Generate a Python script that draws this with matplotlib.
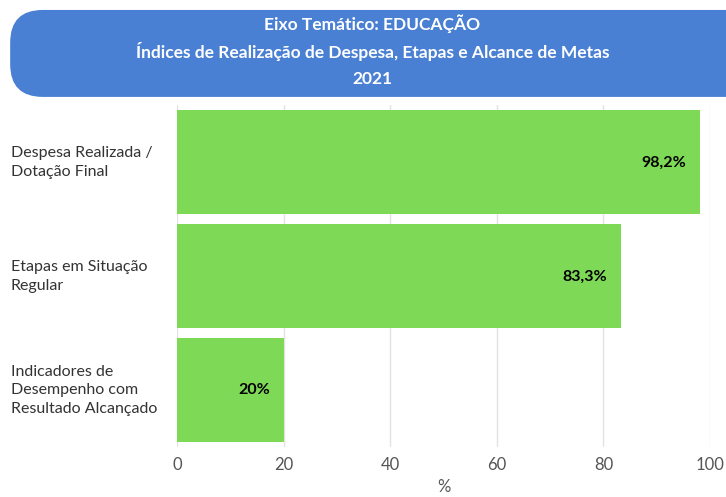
import matplotlib.pyplot as plt
from matplotlib.patches import FancyBboxPatch

plt.rcParams['font.family'] = ['Lato', 'DejaVu Sans']

# ---- data ----
categories = ["Despesa Realizada /\nDotação Final",
              "Etapas em Situação\nRegular",
              "Indicadores de\nDesempenho com\nResultado Alcançado"]
values = [98.2, 83.3, 20]
value_labels = ["98,2%", "83,3%", "20%"]
x_ticks = [0, 20, 40, 60, 80, 100]

title_lines = ["Eixo Temático: EDUCAÇÃO",
               "Índices de Realização de Despesa, Etapas e Alcance de Metas",
               "2021"]

bar_color = "#7ED957"
title_bg = "#4A80D4"

fig = plt.figure(figsize=(7.26, 4.97), dpi=100)
ax = fig.add_axes([0.2438, 0.100, 0.7342, 0.688])

ypos = list(range(len(categories)))
ax.barh(ypos, values, height=0.91, color=bar_color, edgecolor="none", zorder=2)
ax.set_ylim(len(categories) - 0.5, -0.5)
ax.set_xlim(0, 100)

for y, v, lab in zip(ypos, values, value_labels):
    ax.text(v - 2.6, y, lab, ha="right", va="center", fontsize=11.5,
            fontweight="bold", color="black", zorder=3)

ax.set_xticks(x_ticks)
ax.set_xticklabels([str(t) for t in x_ticks], fontsize=12, color="#555555")
ax.set_yticks(ypos)
ax.set_yticklabels([])
ax.tick_params(length=0, pad=7)
ax.grid(axis="x", color="#E3E3E3", linewidth=1, zorder=0)
for s in ax.spines.values():
    s.set_visible(False)
ax.set_xlabel("%", fontsize=12, color="#555555", labelpad=4)

for y, c in zip(ypos, categories):
    ax.text(-0.312, y, c, transform=ax.get_yaxis_transform(), ha="left", va="center",
            fontsize=11.5, color="#333333", linespacing=1.4)

# title box
box = FancyBboxPatch((0.014, 0.805), 1.2, 0.175, boxstyle="round,pad=0,rounding_size=0.045",
                     mutation_aspect=1.46, transform=fig.transFigure,
                     fc=title_bg, ec="none")
fig.patches.append(box)
for ty, line in zip([0.9517, 0.8954, 0.8410], title_lines):
    fig.text(0.513, ty, line, ha="center", va="center",
             color="white", fontsize=12.5, fontweight="bold")

fig.savefig("out.png", dpi=100)
